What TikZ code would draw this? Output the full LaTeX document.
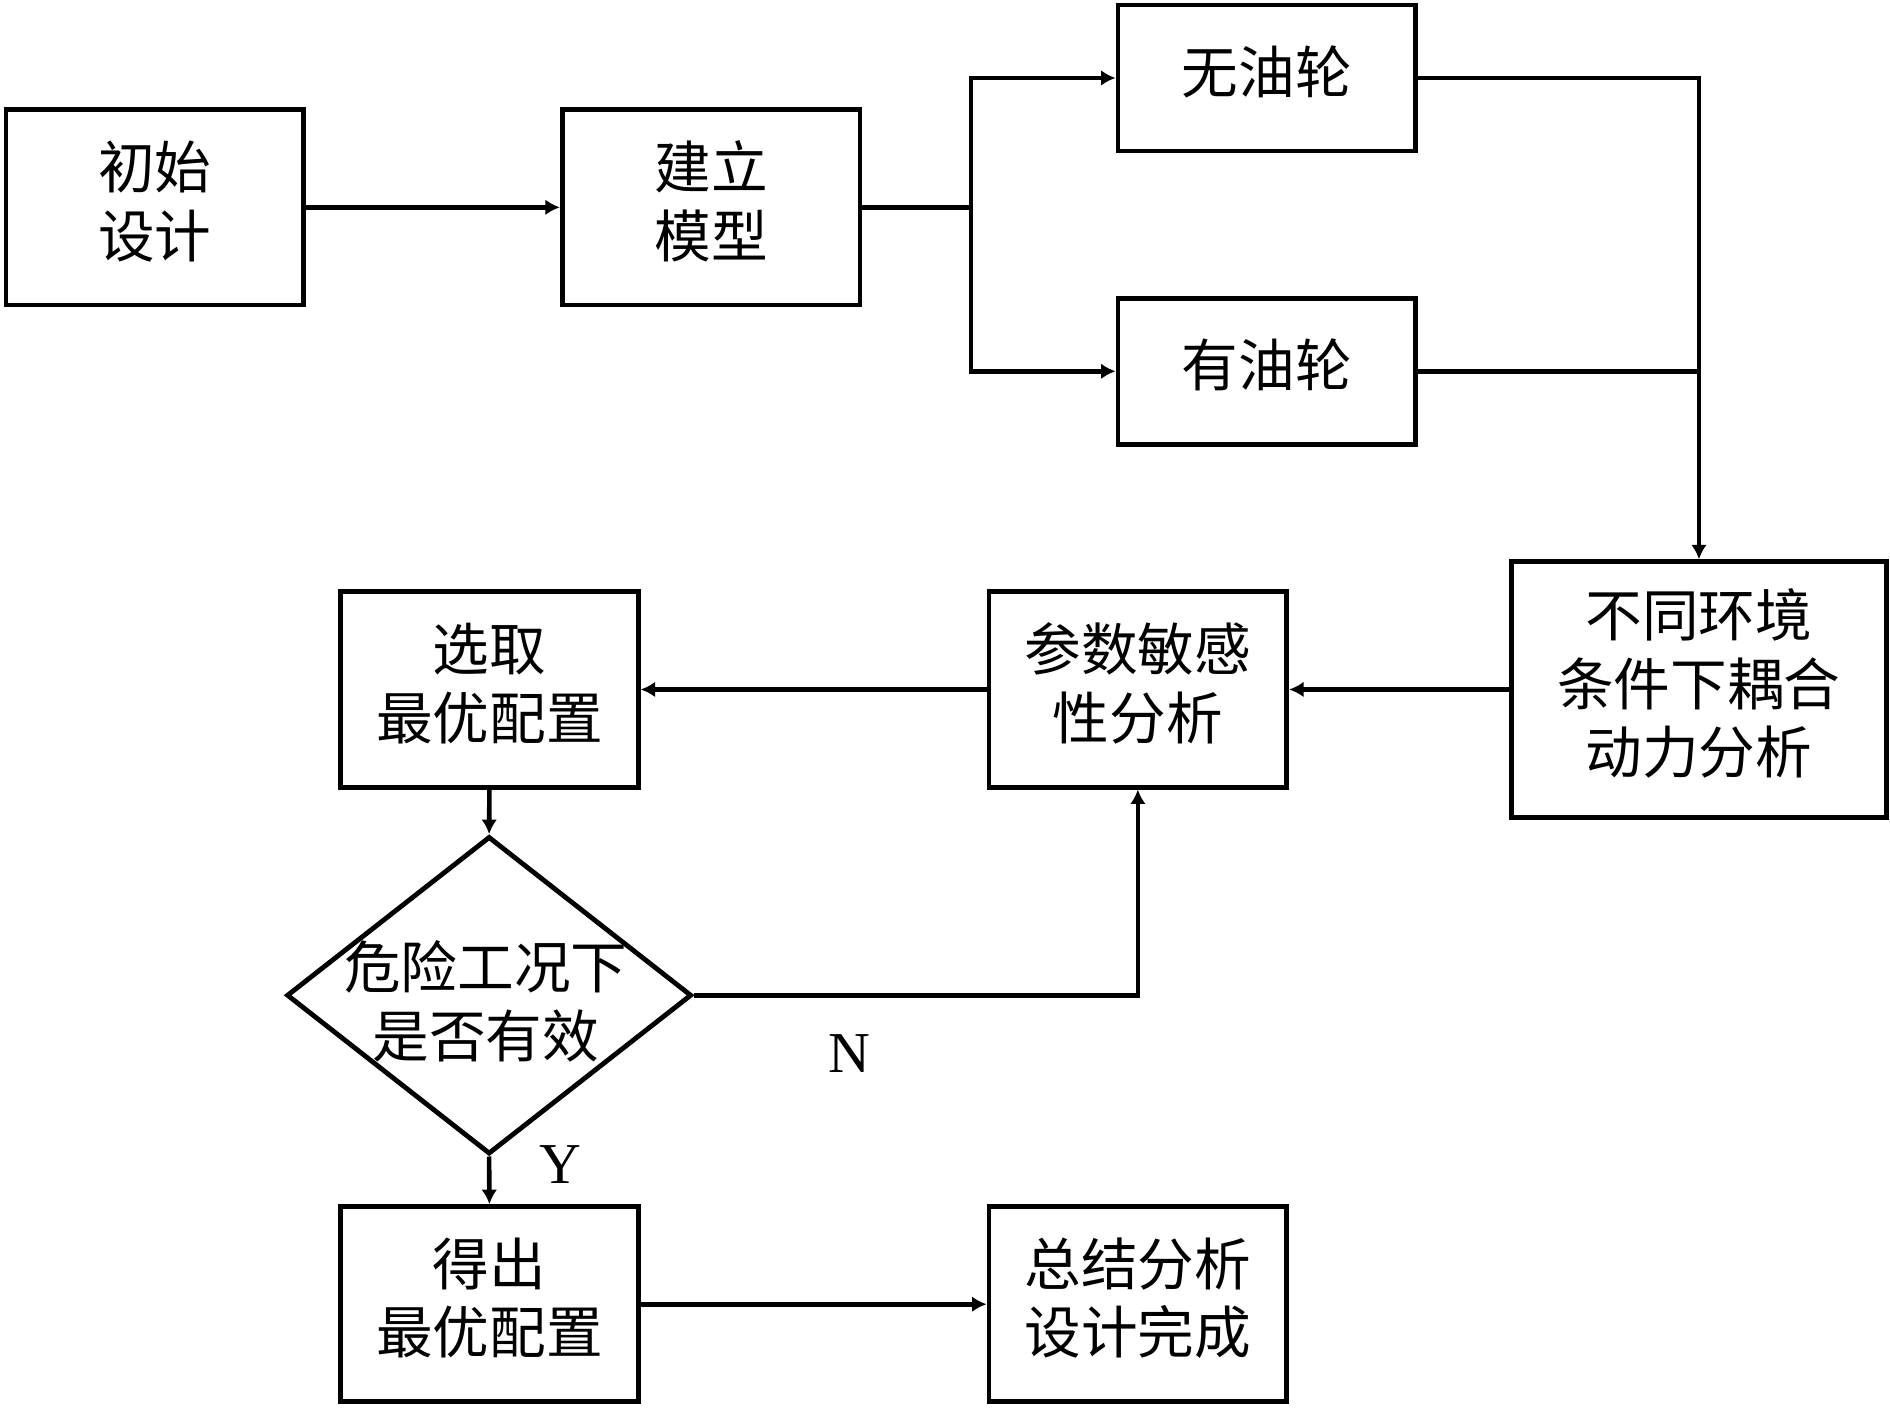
\documentclass[tikz,border=0pt]{standalone}
\usepackage{fontspec}
\setmainfont{Liberation Serif}
\newfontfamily\cjk{Noto Sans CJK SC}
\usetikzlibrary{arrows.meta,shapes.geometric,positioning}
\begin{document}
\begin{tikzpicture}[x=0.5pt,y=-0.5pt,
  box/.style={draw,line width=2pt,inner sep=0pt,align=center,text depth=7pt,
    font=\cjk\fontsize{23.5}{28.5}\selectfont},
  bigbox/.style={box,minimum width=123.5pt,minimum height=81pt},
  smallbox/.style={box,minimum width=123.5pt,minimum height=60.5pt},
  envbox/.style={box,minimum width=155.5pt,minimum height=106pt},
  decide/.style={draw,diamond,line width=2pt,inner sep=0pt,
    minimum width=168pt,minimum height=131.75pt},
  dtext/.style={align=center,font=\cjk\fontsize{23.5}{28.5}\selectfont},
  conn/.style={line width=1.9pt},
  arr/.style={conn,-{Latex[length=6pt,width=6.5pt]}},
  lab/.style={font=\fontsize{24}{28}\selectfont}]
\useasboundingbox (0,0) rectangle (1568,1167.5);
\node[bigbox] (init) at (128.5,172) {初始\\设计};
\node[bigbox] (model) at (590,172) {建立\\模型};
\node[smallbox] (wu) at (1051,64.7) {无油轮};
\node[smallbox] (you) at (1051,308) {有油轮};
\node[envbox] (env) at (1409.5,572) {不同环境\\条件下耦合\\动力分析};
\node[bigbox] (para) at (944,572) {参数敏感\\性分析};
\node[bigbox] (sel) at (406,572) {选取\\最优配置};
\node[decide] (dia) at (405.8,825.7) {};
\node[dtext] (diatext) at (403,831) {危险工况下\\是否有效};
\node[bigbox] (get) at (406,1082) {得出\\最优配置};
\node[bigbox] (sum) at (944,1082) {总结分析\\设计完成};
\coordinate (split) at (805.6,172);
\node[lab] (N) at (705,874) {N};
\node[lab] (Y) at (465,966) {Y};
\draw[arr] (init.east) -- (model.west);
\draw[conn] (model.east) -- (split);
\draw[arr] (split) |- (wu.west);
\draw[arr] (split) |- (you.west);
\draw[arr] (wu.east) -| (env.north);
\draw[conn] (you.east) -- (you.east -| env.north);
\draw[arr] (env.west) -- (para.east);
\draw[arr] (para.west) -- (sel.east);
\draw[arr] (sel.south) -- (dia.north);
\draw[arr] (dia.east) -| (para.south);
\draw[arr] (dia.south) -- (get.north);
\draw[arr] (get.east) -- (sum.west);
\end{tikzpicture}
\end{document}
